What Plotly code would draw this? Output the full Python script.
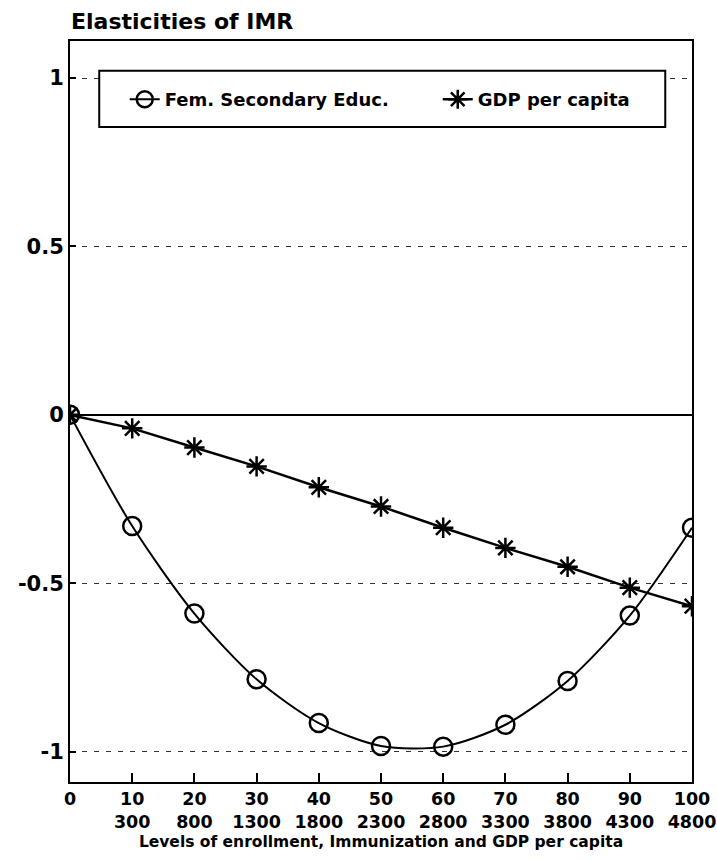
import plotly.graph_objects as go

x_levels = [0, 10, 20, 30, 40, 50, 60, 70, 80, 90, 100]
gdp_levels = ["", "300", "800", "1300", "1800", "2300", "2800", "3300", "3800", "4300", "4800"]
fem_sec_educ = [0, -0.33, -0.59, -0.785, -0.915, -0.983, -0.985, -0.92, -0.79, -0.596, -0.335]
gdp_per_capita = [0, -0.04, -0.097, -0.153, -0.215, -0.272, -0.335, -0.395, -0.451, -0.513, -0.568]
y_ticks = [1, 0.5, 0, -0.5, -1]
y_ticktext = ["1", "0.5", "0", "-0.5", "-1"]

FONT = "DejaVu Sans"

x_ticktext = []
for xv, g in zip(x_levels, gdp_levels):
    x_ticktext.append(f"<b>{xv}</b>" if not g else f"<b>{xv}<br>{g}</b>")

fig = go.Figure()
fig.add_trace(go.Scatter(
    x=x_levels, y=fem_sec_educ, name="<b>Fem. Secondary Educ.</b>",
    mode="lines+markers", line=dict(color="black", width=2, shape="spline", smoothing=0.8),
    marker=dict(symbol="circle-open", size=18, color="black", line=dict(width=2.5)),
    legendwidth=268,
))
fig.add_trace(go.Scatter(
    x=x_levels, y=gdp_per_capita, name="<b>GDP per capita</b>",
    mode="lines+markers", line=dict(color="black", width=2.5),
    marker=dict(symbol="asterisk-open", size=17, color="black", line=dict(width=2.5)),
    legendwidth=170,
))

# legend frame (plot-area paper coordinates)
fig.add_shape(type="rect", xref="paper", yref="paper",
              x0=0.047, x1=0.957, y0=0.884, y1=0.960,
              line=dict(color="black", width=2), fillcolor="white", layer="above")

fig.update_layout(
    width=717, height=868,
    margin=dict(l=70, r=25, t=41, b=86, autoexpand=False),
    paper_bgcolor="white", plot_bgcolor="white",
    font=dict(family=FONT, color="black", size=18),
    title=dict(text="<b>Elasticities of IMR</b>", x=71/717, xanchor="left",
               y=1 - 21/868, yanchor="middle", font=dict(size=22, family=FONT)),
    legend=dict(
        orientation="h", x=0.088, y=0.921, xanchor="left", yanchor="middle",
        borderwidth=0, bgcolor="rgba(0,0,0,0)",
        font=dict(size=18, family=FONT), itemwidth=30,
    ),
    showlegend=True,
)
fig.update_xaxes(
    range=[0, 100], tickvals=x_levels, ticktext=x_ticktext,
    showline=True, linecolor="black", linewidth=2, mirror=True,
    ticks="inside", ticklen=9, tickwidth=2, tickcolor="black",
    showgrid=False, zeroline=False, ticklabeloverflow="allow", automargin=False,
    tickfont=dict(size=17.5, family=FONT),
    title=dict(text="<b>Levels of enrollment, Immunization and GDP per capita</b>",
               font=dict(size=15.5, family=FONT), standoff=5),
)
fig.update_yaxes(
    range=[-1.09, 1.11], tickvals=y_ticks, ticktext=[f"<b>{t}</b>" for t in y_ticktext],
    showline=True, linecolor="black", linewidth=2, mirror=True,
    ticks="inside", ticklen=6, tickwidth=2, tickcolor="black", automargin=False,
    showgrid=True, gridcolor="#333", gridwidth=1, griddash="5px,7px",
    zeroline=True, zerolinecolor="black", zerolinewidth=2,
    tickfont=dict(size=21, family=FONT),
)

fig.write_html("out.html")
